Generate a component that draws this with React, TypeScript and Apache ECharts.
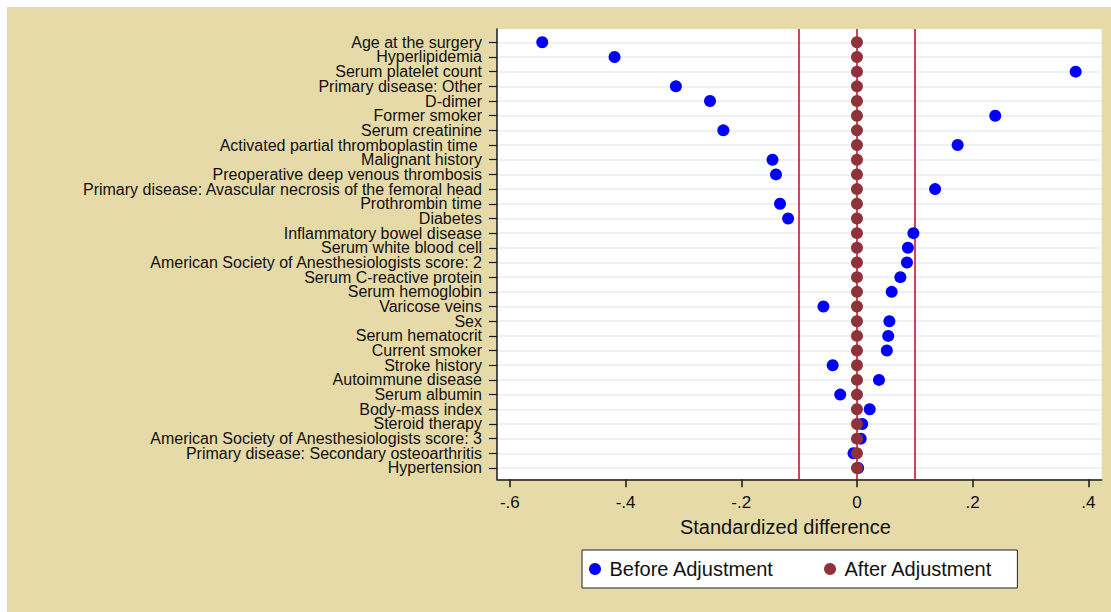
import React, { useEffect, useRef } from "react";
import * as echarts from "echarts";

const categories = [
  "Age at the surgery",
  "Hyperlipidemia",
  "Serum platelet count",
  "Primary disease: Other",
  "D-dimer",
  "Former smoker",
  "Serum creatinine",
  "Activated partial thromboplastin time ",
  "Malignant history",
  "Preoperative deep venous thrombosis",
  "Primary disease: Avascular necrosis of the femoral head",
  "Prothrombin time",
  "Diabetes",
  "Inflammatory bowel disease",
  "Serum white blood cell",
  "American Society of Anesthesiologists score: 2",
  "Serum C-reactive protein",
  "Serum hemoglobin",
  "Varicose veins",
  "Sex",
  "Serum hematocrit",
  "Current smoker",
  "Stroke history",
  "Autoimmune disease",
  "Serum albumin",
  "Body-mass index",
  "Steroid therapy",
  "American Society of Anesthesiologists score: 3",
  "Primary disease: Secondary osteoarthritis",
  "Hypertension",
];

const beforeAdjustment = [
  -0.544, -0.419, 0.378, -0.313, -0.254, 0.239, -0.231, 0.174, -0.146, -0.14,
  0.135, -0.133, -0.119, 0.0975, 0.088, 0.0864, 0.075, 0.06, -0.058, 0.056,
  0.054, 0.0516, -0.042, 0.038, -0.029, 0.022, 0.009, 0.0064, -0.006, 0.002,
];

const afterAdjustment = [
  0, 0, 0, 0, 0, 0, 0, 0, 0, 0,
  0, 0, 0, 0, 0, 0, 0, 0, 0, 0,
  0, 0, 0, 0, 0, 0, 0, 0, 0, 0,
];

const referenceLines = [-0.1, 0, 0.1];
const xTickValues = [-0.6, -0.4, -0.2, 0, 0.2, 0.4];
const xTickLabels = ["-.6", "-.4", "-.2", "0", ".2", ".4"];
const seriesNames = ["Before Adjustment", "After Adjustment"];
const xAxisTitle = "Standardized difference";

const FONT = "'Liberation Sans', Arial, Helvetica, sans-serif";

export default function App() {
  const ref = useRef<HTMLDivElement>(null);

  useEffect(() => {
    if (!ref.current) return;
    const chart = echarts.init(ref.current, null, { renderer: "svg" });
    const rowIndex = categories.map((_, i) => i);
    const evenRows = rowIndex.filter((i) => i % 2 === 0);
    const oddRows = rowIndex.filter((i) => i % 2 === 1);

    const yLabelBase = {
      showMinLabel: true,
      showMaxLabel: true,
      hideOverlap: false,
      fontSize: 16,
      color: "#111111",
      margin: 15,
      fontFamily: FONT,
      formatter: (v: number) => categories[Math.round(v)] ?? "",
    };

    chart.setOption({
      animation: false,
      backgroundColor: "#ffffff",
      textStyle: { fontFamily: FONT },
      graphic: [
        {
          type: "rect",
          z: -10,
          silent: true,
          shape: { x: 7, y: 7, width: 1104, height: 605 },
          style: { fill: "#E6DAA8" },
        },
      ],
      grid: {
        left: 497,
        top: 29,
        right: 9.3,
        bottom: 132.7,
        show: true,
        backgroundColor: "#ffffff",
        borderWidth: 0,
        containLabel: false,
        outerBoundsMode: "none",
      },
      legend: {
        data: seriesNames,
        left: 582,
        top: 550,
        orient: "horizontal",
        padding: [9, 25, 9, 7],
        itemWidth: 19,
        itemHeight: 12,
        itemGap: 50,
        icon: "circle",
        backgroundColor: "#ffffff",
        borderColor: "#222222",
        borderWidth: 1,
        selectedMode: false,
        textStyle: { fontSize: 20, color: "#111111", fontFamily: FONT },
      },
      xAxis: {
        type: "value",
        min: -0.6222,
        max: 0.423,
        name: xAxisTitle,
        nameLocation: "middle",
        nameGap: 38,
        nameTextStyle: {
          fontSize: 20,
          color: "#111111",
          fontFamily: FONT,
          padding: [0, 28, 0, 0],
        },
        axisLine: { show: true, onZero: false, lineStyle: { color: "#1a1a1a", width: 1.5 } },
        axisTick: {
          show: true,
          length: 8,
          customValues: xTickValues,
          lineStyle: { color: "#1a1a1a", width: 1.5 },
        },
        axisLabel: {
          customValues: xTickValues,
          showMinLabel: true,
          showMaxLabel: true,
          fontSize: 17,
          color: "#111111",
          margin: 15,
          fontFamily: FONT,
          formatter: (v: number) => {
            let best = 0;
            xTickValues.forEach((t, i) => {
              if (Math.abs(t - v) < Math.abs(xTickValues[best] - v)) best = i;
            });
            return xTickLabels[best];
          },
        },
        splitLine: { show: false },
      },
      yAxis: [
        {
          type: "value",
          inverse: true,
          min: -0.906,
          max: 29.77,
          position: "left",
          axisLine: { show: true, onZero: false, lineStyle: { color: "#1a1a1a", width: 1.5 } },
          axisTick: {
            show: true,
            length: 8,
            customValues: rowIndex,
            lineStyle: { color: "#1a1a1a", width: 1.2 },
          },
          axisLabel: { ...yLabelBase, customValues: evenRows },
          splitLine: { show: true, lineStyle: { color: "#E4ECF1", width: 1.5 } },
        },
        {
          type: "value",
          inverse: true,
          min: -0.906,
          max: 29.77,
          position: "left",
          offset: 0,
          axisLine: { show: false, onZero: false },
          axisTick: { show: false, customValues: oddRows },
          axisLabel: { ...yLabelBase, customValues: oddRows },
          splitLine: { show: false },
        },
      ],
      series: [
        {
          type: "scatter",
          name: "refs",
          data: [],
          z: 1,
          silent: true,
          markLine: {
            silent: true,
            symbol: "none",
            z: 1,
            label: { show: false },
            lineStyle: { color: "#CC1236", width: 1.6, type: "solid" },
            data: referenceLines.map((x) => ({ xAxis: x })),
          },
        },
        {
          type: "scatter",
          name: seriesNames[0],
          symbol: "circle",
          symbolSize: 12,
          z: 3,
          itemStyle: { color: "#0000FF", opacity: 1 },
          data: beforeAdjustment.map((v, i) => [v, i]),
        },
        {
          type: "scatter",
          name: seriesNames[1],
          symbol: "circle",
          symbolSize: 12,
          z: 4,
          itemStyle: { color: "#8E3339", opacity: 1 },
          data: afterAdjustment.map((v, i) => [v, i]),
        },
      ],
    });

    return () => chart.dispose();
  }, []);

  return (
    <div
      ref={ref}
      style={{ position: "fixed", left: 0, top: 0, width: 1111, height: 612 }}
    />
  );
}
